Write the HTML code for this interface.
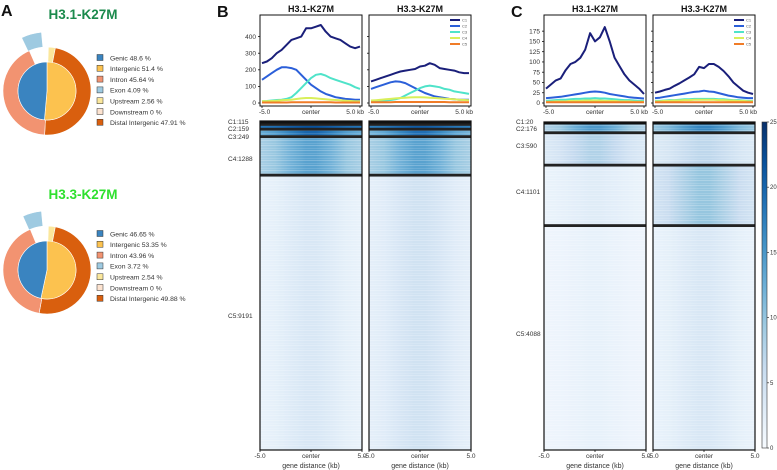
<!DOCTYPE html>
<html><head><meta charset="utf-8">
<style>
html,body{margin:0;padding:0;background:#fff;}
svg{display:block;font-family:"Liberation Sans",sans-serif;}
</style></head>
<body>
<svg id="fig" width="777" height="470" viewBox="0 0 777 470" xmlns="http://www.w3.org/2000/svg">
<defs>
<linearGradient id="cbar" x1="0" y1="1" x2="0" y2="0">
<stop offset="0" stop-color="#f7fbff"/><stop offset="0.125" stop-color="#deebf7"/><stop offset="0.25" stop-color="#c6dbef"/><stop offset="0.375" stop-color="#9ecae1"/><stop offset="0.5" stop-color="#6baed6"/><stop offset="0.625" stop-color="#4292c6"/><stop offset="0.75" stop-color="#2171b5"/><stop offset="0.875" stop-color="#08519c"/><stop offset="1" stop-color="#08306b"/>
</linearGradient>
<pattern id="streaks" width="7" height="5" patternUnits="userSpaceOnUse">
<rect x="0" y="0" width="7" height="1" fill="#ffffff" opacity="0.22"/>
<rect x="0" y="3" width="7" height="1" fill="#ffffff" opacity="0.12"/>
</pattern>
</defs>
<g id="panelA"></g>
<g id="panelB"></g>
<g id="panelC"></g>
</svg>
<script>
// ---------- Data ----------
const pieLegendLabels1 = ["Genic 48.6 %","Intergenic 51.4 %","Intron 45.64 %","Exon 4.09 %","Upstream 2.56 %","Downstream 0 %","Distal Intergenic 47.91 %"];
const pieLegendLabels2 = ["Genic 46.65 %","Intergenic 53.35 %","Intron 43.96 %","Exon 3.72 %","Upstream 2.54 %","Downstream 0 %","Distal Intergenic 49.88 %"];
const pieInner1 = [48.6, 51.4];   // genic, intergenic
const pieInner2 = [46.65, 53.35];
const pieOuter1 = [45.64, 4.09, 2.56, 0, 47.91]; // intron, exon, upstream, downstream, distal
const pieOuter2 = [43.96, 3.72, 2.54, 0, 49.88];

const xTicks = [-5, 0, 5];
const profileTickLabels = ["-5.0","center","5.0 kb"];
const clusterNames = ["C1","C2","C3","C4","C5"];

const bH31C1 = [240,250,270,300,320,350,380,390,400,450,450,460,470,430,400,390,380,360,340,330,340];
const bH31C2 = [140,160,180,200,215,215,210,200,170,140,110,90,70,55,45,35,30,25,22,20,20];
const bH31C3 = [10,12,15,18,20,25,35,60,90,120,150,170,175,165,150,140,130,120,110,95,85];
const bH31C4 = [10,11,12,14,16,18,20,24,28,30,30,28,25,22,20,18,16,14,12,11,10];
const bH31C5 = [3,3,3,3,3,3,4,4,4,4,4,4,4,4,4,3,3,3,3,3,3];
const bH33C1 = [130,140,150,160,170,180,190,195,200,205,220,225,240,230,210,205,200,195,185,180,180];
const bH33C2 = [85,95,105,115,125,130,128,120,105,90,75,60,50,40,35,30,25,22,20,20,20];
const bH33C3 = [10,11,13,15,18,22,30,45,60,75,90,100,105,100,95,85,80,70,65,60,55];
const bH33C4 = [15,17,19,22,25,28,30,32,34,35,35,34,32,30,28,26,24,22,20,18,17];
const bH33C5 = [5,5,5,5,5,6,6,6,6,6,6,6,6,6,6,6,5,5,5,5,5];
const cH31C1 = [35,45,55,60,80,95,100,110,130,170,150,160,185,150,110,90,70,55,45,35,22];
const cH31C2 = [12,13,14,15,17,19,21,23,25,27,28,27,25,22,20,18,16,14,13,12,11];
const cH31C3 = [5,6,7,8,8,9,10,10,11,11,12,11,11,10,9,8,7,7,6,5,5];
const cH31C4 = [3,3,4,4,4,5,5,5,6,6,6,6,5,5,5,4,4,4,3,3,3];
const cH31C5 = [2,2,2,2,2,2,2,2,2,2,2,2,2,2,2,2,2,2,2,2,2];
const cH33C1 = [25,28,32,35,42,48,55,62,70,88,85,95,95,88,78,65,50,40,30,25,22];
const cH33C2 = [12,13,15,17,19,21,23,25,27,28,30,28,27,24,21,18,16,14,13,12,12];
const cH33C3 = [5,5,6,7,7,8,9,9,10,10,10,10,10,9,9,8,7,7,6,5,5];
const cH33C4 = [4,4,5,5,6,6,7,7,8,8,8,8,8,7,7,6,6,5,5,4,4];
const cH33C5 = [2,2,2,2,2,2,2,2,2,2,2,2,2,2,2,2,2,2,2,2,2];

const bYTicks = [0,100,200,300,400];
const cYTicks = [0,25,50,75,100,125,150,175];
const cbarTicks = [0,5,10,15,20,25];

const bClusterCounts = [115,159,249,1288,9191];
const cClusterCounts = [20,176,590,1101,4088];
const bH31Center = [23,22,20,14,4];
const bH31Edge   = [20,18,12,8,1.5];
const bH33Center = [23,21,19,14,5];
const bH33Edge   = [19,17,11,8,2];
const cH31Center = [17,15,8,3,2];
const cH31Edge   = [10,7,3,1.5,1];
const cH33Center = [18,17,7,10,4];
const cH33Edge   = [11,9,3,4,1.5];

// ---------- helpers ----------
const NS = "http://www.w3.org/2000/svg";
function mk(tag, attrs, parent){
  const e = document.createElementNS(NS, tag);
  for (const k in attrs) e.setAttribute(k, attrs[k]);
  parent.appendChild(e);
  return e;
}
function txt(parent, x, y, s, size, opts){
  const t = mk("text", Object.assign({x:x, y:y, "font-size":size, fill:"#222"}, opts||{}), parent);
  t.textContent = s;
  return t;
}
const blues = ["#f7fbff","#deebf7","#c6dbef","#9ecae1","#6baed6","#4292c6","#2171b5","#08519c","#08306b"];
function hex2rgb(h){return [parseInt(h.substr(1,2),16),parseInt(h.substr(3,2),16),parseInt(h.substr(5,2),16)];}
function bluesColor(v){
  let f = Math.max(0, Math.min(1, v/25))*8;
  const i = Math.min(7, Math.floor(f)); const t = f - i;
  const a = hex2rgb(blues[i]), b = hex2rgb(blues[i+1]);
  return "rgb("+a.map((c,k)=>Math.round(c+(b[k]-c)*t)).join(",")+")";
}
const svg = document.getElementById("fig");
const defs = svg.querySelector("defs");
let gradId = 0;

// ---------- Panel A ----------
const gA = document.getElementById("panelA");
function polar(cx, cy, r, frac){ const a = frac*2*Math.PI - Math.PI/2; return [cx + r*Math.cos(a), cy + r*Math.sin(a)]; }
function wedge(parent, cx, cy, r0, r1, f0, f1, color){
  if (f1 - f0 <= 0) return null;
  const large = (f1-f0) > 0.5 ? 1 : 0;
  const p1 = polar(cx,cy,r1,f0), p2 = polar(cx,cy,r1,f1);
  let d;
  if (r0 === 0){
    d = `M${cx},${cy} L${p1[0]},${p1[1]} A${r1},${r1} 0 ${large} 1 ${p2[0]},${p2[1]} Z`;
  } else {
    const p3 = polar(cx,cy,r0,f1), p4 = polar(cx,cy,r0,f0);
    d = `M${p1[0]},${p1[1]} A${r1},${r1} 0 ${large} 1 ${p2[0]},${p2[1]} L${p3[0]},${p3[1]} A${r0},${r0} 0 ${large} 0 ${p4[0]},${p4[1]} Z`;
  }
  return mk("path", {d:d, fill:color, stroke:"#fff", "stroke-width":0.6}, parent);
}
const legendColors = ["#3a84c0","#fcc24f","#f29371","#9ecae1","#fbe79c","#fde3d0","#d95f0e"];
function drawPie(cx, cy, inner, outer, labels, title, titleColor, ty, ly, idx){
  const g = mk("g", {}, gA);
  
  
  const t = txt(g, 83, ty, title, 13.5, {"font-weight":"bold", fill:titleColor, "text-anchor":"middle"});
  
  
  const tot = outer.reduce((a,b)=>a+b,0);
  const intron = outer[0]/tot, exon = outer[1]/tot, up = outer[2]/tot, down = outer[3]/tot, distal = outer[4]/tot;
  let f = 0.005;
  const wUp = wedge(g, cx, cy, 29, 44, f, f+up, legendColors[4]); f += up + down;
  const wDi = wedge(g, cx, cy, 29, 44, f, f+distal, legendColors[6]); f += distal;
  const wIn = wedge(g, cx, cy, 29, 44, f, f+intron - 0.03, legendColors[2]);
  const e0 = 1 - exon - 0.03, e1 = 0.985;
  const wEx = wedge(g, cx, cy, 44, 59, e0, e1, legendColors[3]);
  [wUp,wDi,wIn,wEx].forEach(w=>{ if(w){   }});
  const it = inner[1]/(inner[0]+inner[1]);
  const wIg = wedge(g, cx, cy, 0, 29, 0, it, legendColors[1]);
  
  
  const wG = wedge(g, cx, cy, 0, 29, it, 1, legendColors[0]);
  
  
  labels.forEach((lab, i) => {
    const y = ly + i*10.8;
    const r = mk("rect", {x:97, y:y-3.5, width:6, height:6, fill:legendColors[i], stroke:"#333", "stroke-width":0.5}, g);
    
    
    const tt = txt(g, 110, y+2.3, lab, 6.8, {fill:"#333"});
    
    
  });
}
const la = txt(gA, 1, 16, "A", 16, {"font-weight":"bold", fill:"#111"});


drawPie(47, 91, pieInner1, pieOuter1, pieLegendLabels1, "H3.1-K27M", "#1b8a4c", 19, 58, 1);
drawPie(47, 270, pieInner2, pieOuter2, pieLegendLabels2, "H3.3-K27M", "#2ee02e", 199, 234, 2);

// ---------- Profiles ----------
const seriesColors = ["#1a1f7a","#2b5fd9","#4fe3c9","#d9ef5a","#f07c28"];
function drawProfile(parent, x0, x1, y0, y1, yMax, yTicks, series, showYLabels, showLegend, title, name){
  const g = mk("g", {}, parent);
  
  
  const xs = v => x0 + 2 + (v + 5) / 10 * (x1 - x0 - 4);
  const ys = v => (y1 - 3) - v / yMax * (y1 - 3 - (y0 + 10));
  const tt = txt(g, (x0+x1)/2, y0 - 3, title, 9, {"font-weight":"bold", "text-anchor":"middle", fill:"#111"});
  
  
  series.forEach((vals, si) => {
    const n = vals.length;
    const pts = vals.map((v,i)=> xs(-5 + 10*i/(n-1)).toFixed(1) + "," + ys(v).toFixed(1)).join(" ");
    const pl = mk("polyline", {points:pts, fill:"none", stroke:seriesColors[si], "stroke-width":2, "stroke-linejoin":"round"}, g);
    
    
  });
  const fr = mk("rect", {x:x0, y:y0, width:x1-x0, height:y1-y0, fill:"none", stroke:"#111", "stroke-width":1}, g);
  
  
  yTicks.forEach(v => {
    const y = ys(v);
    mk("line", {x1:x0-2, x2:x0, y1:y, y2:y, stroke:"#111", "stroke-width":0.8}, g);
    if (showYLabels){
      const l = txt(g, x0-4, y+2.2, String(v), 6.5, {"text-anchor":"end", fill:"#333"});
      
      
    }
  });
  xTicks.forEach((v, i) => {
    const x = xs(v);
    mk("line", {x1:x, x2:x, y1:y1, y2:y1+2, stroke:"#111", "stroke-width":0.8}, g);
    const anchor = i===0 ? "start" : (i===2 ? "end" : "middle");
    const l = txt(g, i===0 ? x0-1 : (i===2 ? x1+2 : x), y1+8, profileTickLabels[i], 6.5, {"text-anchor":anchor, fill:"#333"});
    
    
  });
  if (showLegend){
    clusterNames.forEach((c, i) => {
      const y = y0 + 5 + i*6;
      const ln = mk("line", {x1:x1-21, x2:x1-11, y1:y, y2:y, stroke:seriesColors[i], "stroke-width":2}, g);
      
      
      const l = txt(g, x1-9, y+1.5, c, 4, {fill:"#555"});
      
      
    });
  }
}

// ---------- Heatmaps ----------
function drawHeatmap(parent, x0, x1, y0, y1, counts, centers, edges, labelX, labelYs, name){
  const g = mk("g", {}, parent);
  
  
  const total = counts.reduce((a,b)=>a+b,0);
  const H = y1 - y0;
  let y = y0;
  const seps = [];
  counts.forEach((c, i) => {
    const h = c / total * H;
    const id = "hg" + (gradId++);
    const lg = mk("linearGradient", {id:id, x1:"0", y1:"0", x2:"1", y2:"0"}, defs);
    [0,0.15,0.3,0.45,0.55,0.7,0.85,1].forEach(o => {
      const d = Math.abs(o - 0.5) * 2;
      const w = Math.exp(-d*d*2.5);
      const v = edges[i] + (centers[i] - edges[i]) * w;
      mk("stop", {offset:o, "stop-color":bluesColor(v)}, lg);
    });
    const r = mk("rect", {x:x0, y:y, width:x1-x0, height:Math.max(h,1), fill:"url(#"+id+")"}, g);
    
    
    mk("rect", {x:x0, y:y, width:x1-x0, height:Math.max(h,1), fill:"url(#streaks)"}, g);
    if (labelYs){
      const l = txt(g, labelX, labelYs[i], clusterNames[i] + ":" + c, 6.5, {fill:"#333"});
      
      
    }
    y += h;
    if (i < counts.length - 1) seps.push(y);
  });
  seps.forEach(sy => {
    const s = mk("rect", {x:x0, y:sy-1.4, width:x1-x0, height:2.8, fill:"#222"}, g);
    
    
  });
  const fr = mk("rect", {x:x0, y:y0, width:x1-x0, height:H, fill:"none", stroke:"#111", "stroke-width":1.2}, g);
  
  
  mk("rect", {x:x0, y:y0, width:x1-x0, height:2.5, fill:"#111"}, g);
  const xs = v => x0 + (v + 5) / 10 * (x1 - x0);
  ["-5.0","center","5.0"].forEach((s, i) => {
    const x = xs(xTicks[i]);
    mk("line", {x1:x, x2:x, y1:y1, y2:y1+2, stroke:"#111", "stroke-width":0.8}, g);
    const l = txt(g, x, y1+8, s, 6.5, {"text-anchor":"middle", fill:"#333"});
    
    
  });
  const at = txt(g, (x0+x1)/2, y1+18, "gene distance (kb)", 7, {"text-anchor":"middle", fill:"#333"});
  
  
}

// Panel B
const gB = document.getElementById("panelB");
const lb = txt(gB, 217, 17, "B", 16, {"font-weight":"bold", fill:"#111"});


drawProfile(gB, 260, 362, 15, 106, 470, bYTicks, [bH31C1,bH31C2,bH31C3,bH31C4,bH31C5], true, false, "H3.1-K27M", "profile-b-h31");
drawProfile(gB, 369, 471, 15, 106, 470, bYTicks, [bH33C1,bH33C2,bH33C3,bH33C4,bH33C5], false, true, "H3.3-K27M", "profile-b-h33");
drawHeatmap(gB, 260, 362, 121, 450, bClusterCounts, bH31Center, bH31Edge, 228, [124,131,139,161,318], "heatmap-b-h31");
drawHeatmap(gB, 369, 471, 121, 450, bClusterCounts, bH33Center, bH33Edge, 0, null, "heatmap-b-h33");

// Panel C
const gC = document.getElementById("panelC");
const lc = txt(gC, 511, 17, "C", 16, {"font-weight":"bold", fill:"#111"});


drawProfile(gC, 544, 646, 15, 106, 190, cYTicks, [cH31C1,cH31C2,cH31C3,cH31C4,cH31C5], true, false, "H3.1-K27M", "profile-c-h31");
drawProfile(gC, 653, 755, 15, 106, 190, cYTicks, [cH33C1,cH33C2,cH33C3,cH33C4,cH33C5], false, true, "H3.3-K27M", "profile-c-h33");
drawHeatmap(gC, 544, 646, 122, 450, cClusterCounts, cH31Center, cH31Edge, 516, [124,131,148,194,336], "heatmap-c-h31");
drawHeatmap(gC, 653, 755, 122, 450, cClusterCounts, cH33Center, cH33Edge, 0, null, "heatmap-c-h33");

// Colorbar
const cb = mk("g", {}, gC);


mk("rect", {x:762, y:122, width:5, height:326, fill:"url(#cbar)", stroke:"#333", "stroke-width":0.6}, cb);
cbarTicks.forEach(v => {
  const y = 448 - v/25*326;
  mk("line", {x1:767, x2:769, y1:y, y2:y, stroke:"#333", "stroke-width":0.7}, cb);
  const l = txt(cb, 770, y+2, String(v), 6, {fill:"#333"});
  
  
});
</script>
</body></html>
